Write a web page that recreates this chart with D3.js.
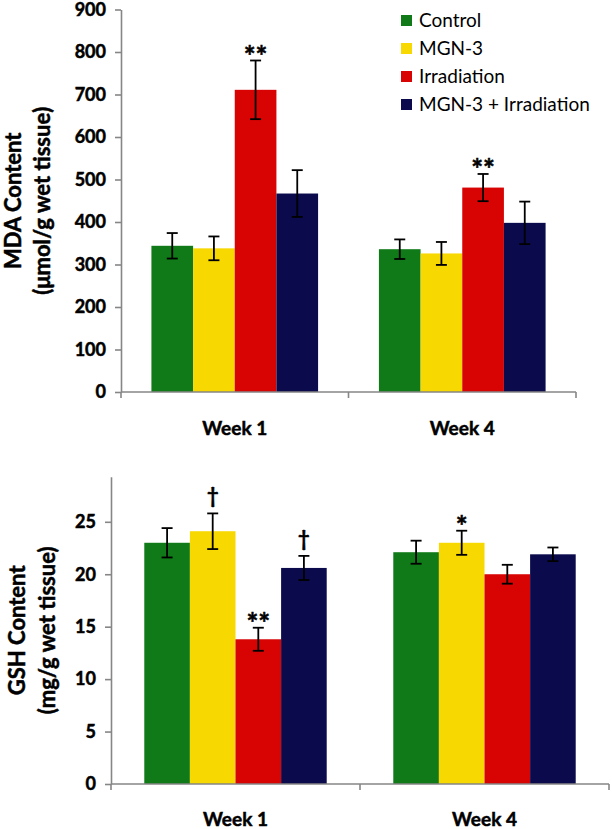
<!DOCTYPE html>
<html>
<head>
<meta charset="utf-8">
<script src="https://cdn.jsdelivr.net/npm/d3@7"></script>
<style>
  body { margin: 0; background: #fff; }
  text { font-family: Lato, "Open Sans", sans-serif; fill: #000; }
  .heavy { font-weight: bold; stroke: #000; stroke-width: 0.5px; }
</style>
</head>
<body>
<div id="vis"></div>
<script>
// groups and series
const groups = ["Week 1", "Week 4"];
const series = ["Control", "MGN-3", "Irradiation", "MGN-3 + Irradiation"];
const colors = ["#0f7a17", "#f7d800", "#d80404", "#0a0a4c"];

// MDA panel
const mdaMean = [[344, 338, 711, 467], [336, 326, 481, 398]];
const mdaErr = [[30, 28, 69, 55], [23, 27, 32, 50]];
const mdaMarks = [["", "", "**", ""], ["", "", "**", ""]];
const mdaTicks = [0, 100, 200, 300, 400, 500, 600, 700, 800, 900];

// GSH panel
const gshMean = [[23.0, 24.1, 13.8, 20.6], [22.1, 23.0, 20.0, 21.9]];
const gshErr = [[1.4, 1.7, 1.1, 1.15], [1.1, 1.15, 0.9, 0.65]];
const gshMarks = [["", "†", "**", "†"], ["", "*", "", ""]];
const gshTicks = [0, 5, 10, 15, 20, 25];

const width = 612, height = 829;
const svg = d3.select('#vis').append('svg')
  .attr('width', width)
  .attr('height', height);

function panel(cfg) {
  const x0 = d3.scaleBand().domain(groups).range([cfg.left, cfg.right]).padding(0);
  const x1 = d3.scaleBand().domain(series).range([0, x0.bandwidth()])
    .paddingInner(0).paddingOuter(0.73);
  const y = d3.scaleLinear().domain(cfg.domain).range([cfg.bottom, cfg.top]);

  const g = svg.append('g');

  // bars
  groups.forEach((grp, gi) => {
    series.forEach((s, si) => {
      const bx = x0(grp) + x1(s);
      const v = cfg.mean[gi][si];
      g.append('rect')
        .attr('x', bx)
        .attr('y', y(v))
        .attr('width', x1.bandwidth())
        .attr('height', y(0) - y(v))
        .attr('fill', colors[si]);
    });
  });

  // error bars + significance marks
  groups.forEach((grp, gi) => {
    series.forEach((s, si) => {
      const cx = x0(grp) + x1(s) + x1.bandwidth() / 2;
      const v = cfg.mean[gi][si], e = cfg.err[gi][si];
      const hi = y(v + e), lo = y(v - e);
      g.append('line').attr('x1', cx).attr('x2', cx).attr('y1', hi).attr('y2', lo)
        .attr('stroke', '#000').attr('stroke-width', 1.8);
      [hi, lo].forEach(yy => {
        g.append('line').attr('x1', cx - 5.5).attr('x2', cx + 5.5).attr('y1', yy).attr('y2', yy)
          .attr('stroke', '#000').attr('stroke-width', 1.8);
      });
      const m = cfg.marks[gi][si];
      if (m) {
        const isDagger = m === '†';
        g.append('text')
          .attr('class', 'heavy')
          .attr('x', cx)
          .attr('y', hi + (isDagger ? -10 : 5))
          .attr('text-anchor', 'middle')
          .style('font-size', isDagger ? '20px' : '28px')
          .text(m);
      }
    });
  });

  // y axis
  const yAxis = g.append('g')
    .attr('transform', `translate(${cfg.left},0)`)
    .call(d3.axisLeft(y).tickValues(cfg.ticks).tickSize(6).tickSizeOuter(0).tickPadding(9));
  yAxis.select('.domain').attr('stroke', '#868686').attr('stroke-width', 1.6);
  yAxis.selectAll('.tick line').attr('stroke', '#868686').attr('stroke-width', 1.6);
  yAxis.selectAll('.tick text')
    .attr('class', 'heavy')
    .style('font-family', 'Lato, sans-serif')
    .style('font-size', '18px')
    .attr('fill', '#000');

  // x axis line + boundary ticks
  const bounds = groups.map(gr => x0(gr)).concat([x0.range()[1]]);
  g.append('line')
    .attr('x1', cfg.left).attr('x2', cfg.right)
    .attr('y1', y(0)).attr('y2', y(0))
    .attr('stroke', '#868686').attr('stroke-width', 1.6);
  bounds.forEach(bx => {
    g.append('line').attr('x1', bx).attr('x2', bx)
      .attr('y1', y(0)).attr('y2', y(0) + 6)
      .attr('stroke', '#868686').attr('stroke-width', 1.6);
  });

  // category labels
  groups.forEach(grp => {
    g.append('text')
      .attr('class', 'heavy')
      .attr('x', x0(grp) + x0.bandwidth() / 2)
      .attr('y', cfg.catY)
      .attr('text-anchor', 'middle')
      .style('font-size', '19px')
      .text(grp);
  });

  // y title (two lines)
  const cy = (cfg.top + cfg.bottom) / 2;
  cfg.title.forEach((t, i) => {
    g.append('text')
      .attr('class', 'heavy')
      .attr('transform', `translate(${cfg.titleX[i]},${cy}) rotate(-90)`)
      .attr('text-anchor', 'middle')
      .style('font-size', '22px')
      .text(t);
  });
}

panel({
  left: 121, right: 576, top: 9.5, bottom: 392,
  domain: [0, 900], ticks: mdaTicks,
  mean: mdaMean, err: mdaErr, marks: mdaMarks,
  catY: 435, title: ["MDA Content", "(μmol/g wet tissue)"], titleX: [21, 50]
});

panel({
  left: 111, right: 609, top: 476.7, bottom: 784,
  domain: [0, 29.3], ticks: gshTicks,
  mean: gshMean, err: gshErr, marks: gshMarks,
  catY: 826, title: ["GSH Content", "(mg/g wet tissue)"], titleX: [25, 55]
});

// legend
const legend = svg.append('g').attr('transform', 'translate(401,20.5)');
series.forEach((s, i) => {
  const row = legend.append('g').attr('transform', `translate(0,${i * 28})`);
  row.append('rect').attr('x', 0).attr('y', -5.5).attr('width', 11).attr('height', 11)
    .attr('fill', colors[i]);
  row.append('text').attr('x', 18).attr('y', 0).attr('dy', '0.35em')
    .style('font-size', '19px')
    .text(s);
});
</script>
</body>
</html>
